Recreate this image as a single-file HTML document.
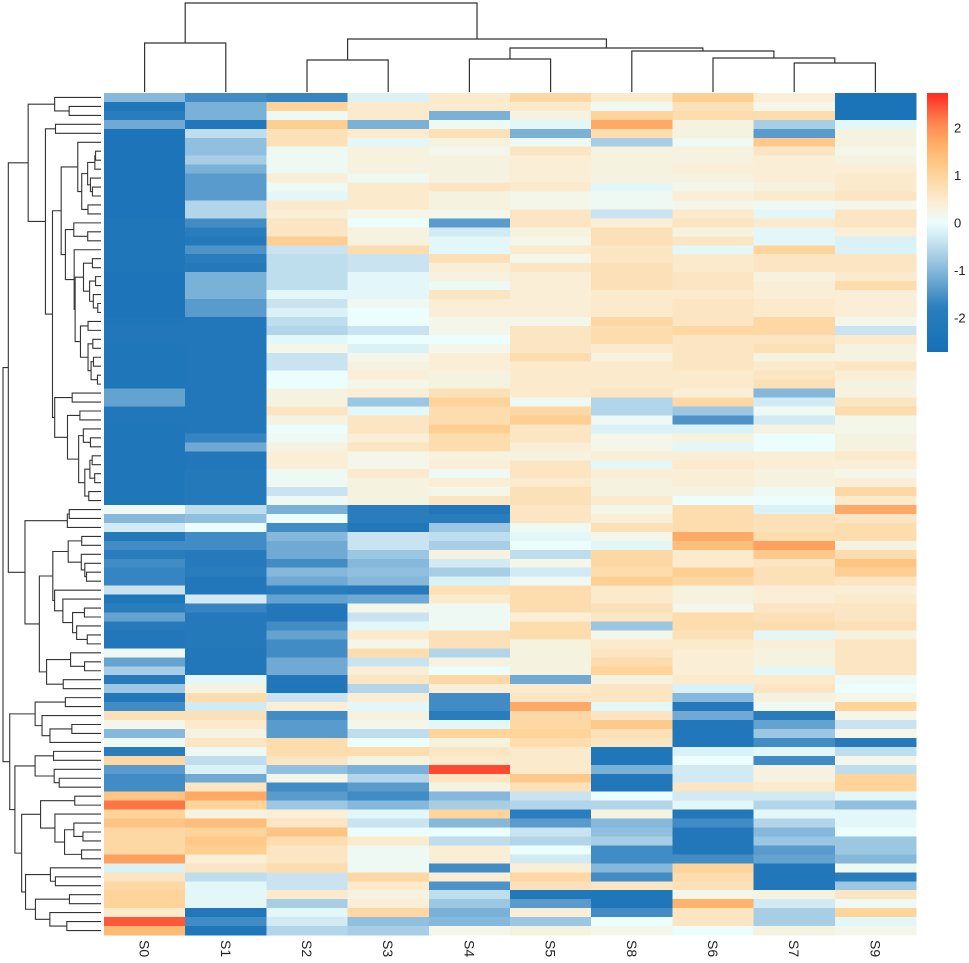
<!DOCTYPE html>
<html><head><meta charset="utf-8"><style>
html,body{margin:0;padding:0;background:#fff;}
svg{display:block;font-family:"Liberation Sans",sans-serif;}
</style></head><body>
<svg id="chart" width="969" height="963" viewBox="0 0 969 963" xmlns="http://www.w3.org/2000/svg">
<g id="col-dend"></g>
<g id="row-dend"></g>
<g id="cells" shape-rendering="crispEdges"></g>
<g id="xlabels"></g>
<g id="legend"></g>
</svg>
<script>
const columns = ["S0","S1","S2","S3","S4","S5","S8","S6","S7","S9"];
const heat = [
[-1.0,-1.6,-1.7,-0.2,0.5,0.9,0.5,1.1,0.4,-2.5],
[-2.3,-1.1,1.0,0.5,0.5,0.5,0.1,0.7,0.2,-2.5],
[-1.8,-1.1,0.1,0.5,-1.1,0.3,1.0,0.8,0.8,-2.5],
[-1.2,-2.2,1.1,-1.1,0.1,-0.1,1.7,0.3,-0.7,-0.1],
[-2.4,-0.5,0.7,0.5,0.7,-1.1,0.8,0.3,-1.4,0.3],
[-2.4,-0.9,0.7,-0.1,0.3,0.1,-0.7,0.1,1.2,0.3],
[-2.4,-0.9,0.1,0.3,0.2,0.6,0.3,0.3,0.6,0.2],
[-2.4,-0.7,0.1,0.3,0.3,0.4,0.3,0.3,0.4,0.3],
[-2.4,-1.1,0.1,0.3,0.3,0.4,0.3,0.4,0.4,0.4],
[-2.4,-1.4,0.4,0.1,0.3,0.4,0.3,0.3,0.4,0.5],
[-2.4,-1.4,0.1,0.5,0.6,0.5,-0.1,0.2,0.3,0.5],
[-2.4,-1.4,-0.1,0.5,0.3,0.2,0.1,0.4,0.5,0.6],
[-2.4,-0.6,0.5,0.5,0.3,0.2,0.1,0.2,0.1,0.2],
[-2.4,-0.6,0.4,0.2,0.2,0.6,-0.4,0.5,-0.1,0.6],
[-2.3,-1.6,0.6,0.0,-1.4,0.6,0.4,0.6,0.5,0.6],
[-2.3,-1.8,0.6,0.3,-0.3,0.3,0.7,0.3,-0.1,0.4],
[-2.3,-2.1,1.1,0.3,-0.1,0.2,0.7,0.6,-0.1,-0.2],
[-2.3,-1.5,-0.4,0.8,-0.1,0.5,0.6,-0.1,1.0,-0.2],
[-2.3,-1.8,-0.5,-0.4,0.7,0.2,0.6,0.5,0.6,0.6],
[-2.3,-2.1,-0.5,-0.4,0.4,0.6,0.7,0.5,0.6,0.6],
[-2.4,-1.1,-0.5,-0.1,0.3,0.4,0.7,0.6,0.3,0.5],
[-2.4,-1.1,-0.5,-0.1,0.1,0.4,0.7,0.6,0.4,0.8],
[-2.4,-1.1,-0.1,-0.1,0.6,0.4,0.5,0.5,0.4,0.4],
[-2.4,-1.4,-0.4,0.1,0.4,0.4,0.5,0.6,0.5,0.4],
[-2.4,-1.4,-0.2,0.0,0.4,0.4,0.5,0.6,0.5,0.4],
[-2.3,-2.2,-0.5,0.0,0.2,0.2,0.9,0.6,0.9,0.2],
[-2.2,-2.2,-0.6,-0.4,0.2,0.6,0.8,0.9,0.9,-0.4],
[-2.2,-2.2,-0.1,0.0,0.0,0.6,0.8,0.6,0.6,0.5],
[-2.3,-2.2,0.2,-0.2,0.2,0.6,0.5,0.6,0.7,0.3],
[-2.3,-2.2,-0.4,0.2,0.4,0.8,0.3,0.6,0.3,0.3],
[-2.3,-2.2,-0.4,0.3,0.4,0.5,0.5,0.6,0.5,0.6],
[-2.3,-2.2,0.0,0.4,0.3,0.5,0.5,0.5,0.6,0.4],
[-2.3,-2.2,0.0,0.2,0.3,0.5,0.5,0.5,0.7,0.3],
[-1.3,-2.2,0.3,0.4,0.7,0.5,0.6,0.4,-1.0,0.3],
[-1.3,-2.2,0.3,-0.8,1.0,0.1,-0.6,0.9,-0.3,0.6],
[-2.2,-2.2,0.6,-0.1,0.8,0.9,-0.6,-0.8,0.1,0.8],
[-2.2,-2.2,0.3,0.6,0.8,1.1,0.1,-1.5,-0.3,0.2],
[-2.3,-2.2,0.0,0.6,1.1,0.6,-0.2,-0.2,0.3,0.2],
[-2.3,-1.7,0.1,0.4,0.8,0.6,0.2,0.3,0.0,0.3],
[-2.3,-1.2,0.3,0.6,0.8,0.4,0.2,-0.1,0.0,0.3],
[-2.3,-2.2,0.4,0.2,0.3,0.3,0.4,0.4,0.4,0.5],
[-2.3,-2.2,0.4,0.2,0.4,0.6,-0.1,0.5,0.4,0.4],
[-2.3,-2.1,0.1,0.5,0.1,0.6,0.4,0.4,0.3,0.2],
[-2.3,-2.1,0.1,0.3,0.4,0.5,0.3,0.4,0.3,0.4],
[-2.3,-2.1,-0.4,0.3,0.2,0.7,0.3,0.3,0.1,0.9],
[-2.3,-2.1,0.1,0.3,0.6,0.7,0.5,0.0,0.0,0.5],
[0.1,-0.5,-1.1,-1.8,-2.2,0.6,0.2,0.8,-0.2,1.7],
[-1.0,-0.9,0.0,-1.8,-1.8,0.6,0.4,0.8,0.7,0.6],
[-0.3,0.0,-1.6,-2.2,-0.8,0.1,0.7,0.8,0.7,0.8],
[-2.1,-1.6,-1.0,-0.4,-0.5,-0.1,0.2,1.7,0.8,0.8],
[-1.6,-1.6,-1.2,-0.4,-0.7,0.0,-0.1,1.4,1.8,0.3],
[-1.8,-2.0,-1.2,-0.8,0.3,-0.5,0.9,0.5,1.2,0.8],
[-1.6,-2.0,-1.6,-1.0,-0.3,0.2,0.9,0.5,0.6,1.3],
[-1.7,-1.8,-1.0,-0.9,-0.7,-0.3,0.8,1.1,0.7,1.1],
[-1.7,-2.2,-1.2,-1.0,-0.2,0.1,1.1,0.9,0.7,0.6],
[-0.4,-2.2,-1.8,-2.0,0.7,0.8,0.5,0.3,0.4,0.4],
[-2.3,-0.3,-1.3,-1.2,0.5,0.8,0.5,0.3,0.4,0.5],
[-1.8,-1.7,-2.2,0.2,0.1,0.8,0.7,0.2,0.6,0.6],
[-1.3,-2.1,-2.2,-0.4,0.1,0.4,0.6,0.8,0.7,0.6],
[-2.0,-2.1,-1.6,-0.1,0.1,0.8,-0.8,0.8,0.8,0.7],
[-2.2,-2.1,-1.3,0.5,0.7,0.8,0.2,0.7,-0.1,0.3],
[-2.2,-2.1,-1.6,0.2,0.7,0.3,0.5,0.5,0.4,0.6],
[0.1,-2.2,-1.6,0.8,-0.6,0.3,0.6,0.4,0.3,0.6],
[-1.3,-2.2,-1.2,-0.4,0.3,0.3,0.8,0.4,0.3,0.6],
[-0.7,-2.2,-1.2,0.4,0.0,0.3,1.0,0.4,-0.1,0.6],
[-2.0,-0.1,-2.2,0.6,0.9,-1.2,0.3,0.5,0.5,0.1],
[-0.8,0.3,-2.3,-0.6,0.4,0.5,0.6,-0.2,0.6,0.0],
[-2.2,0.8,-0.4,0.4,-1.6,0.6,0.6,-1.0,0.3,0.2],
[-1.6,-0.3,0.4,-0.1,-1.6,1.7,-0.1,-2.1,0.1,1.0],
[0.7,0.7,-1.6,0.3,-1.8,0.9,0.6,-1.2,-1.9,0.2],
[0.2,0.5,-1.4,0.2,-0.1,0.9,1.2,-2.2,-1.3,-0.4],
[-1.0,0.3,-1.4,-0.5,1.0,1.0,0.7,-2.2,-0.8,0.2],
[0.1,0.6,0.8,0.0,0.3,0.8,0.6,-2.2,-1.6,-2.0],
[-1.8,0.1,0.8,0.8,0.6,0.5,-2.3,-0.2,-0.1,-0.5],
[0.9,-0.5,0.6,0.3,0.5,0.5,-2.3,0.0,-1.6,0.2],
[-1.4,-0.2,-0.9,-1.1,2.5,0.5,-1.1,-0.3,0.3,-0.5],
[-1.6,-1.2,0.2,-0.6,0.6,1.2,-2.2,-0.3,0.3,1.0],
[-1.6,0.6,-1.6,-1.4,0.3,0.7,-2.2,0.6,0.5,1.0],
[1.3,1.7,-1.4,-1.6,-1.0,-0.4,0.0,-0.3,-0.3,-0.1],
[2.2,1.0,-0.8,-1.0,-0.7,-0.6,-0.6,-0.1,-0.6,-0.9],
[1.0,0.3,0.4,-0.1,1.0,-1.8,0.3,-2.2,-0.1,-0.1],
[1.3,1.4,0.6,-0.4,-1.0,-1.4,-1.0,-1.6,-0.6,-0.1],
[0.9,1.0,1.3,0.0,0.0,-0.4,-0.9,-2.2,-1.0,0.0],
[0.9,1.2,0.8,0.5,-0.5,-0.6,-0.7,-2.2,-0.8,-0.8],
[0.9,1.1,0.6,0.1,0.4,0.0,-1.6,-2.2,-1.4,-0.8],
[1.8,0.4,0.6,0.1,0.4,-0.3,-1.6,-1.6,-1.3,-1.0],
[-0.2,0.6,0.8,0.1,-1.6,0.4,-1.0,1.0,-2.2,0.1],
[0.6,-0.5,-0.4,0.9,0.4,0.9,-1.6,0.8,-2.2,-1.8],
[0.9,-0.1,-0.4,0.5,-1.5,0.7,0.6,0.7,-2.2,-0.8],
[1.0,-0.1,0.5,0.3,-0.5,-2.2,-2.3,0.2,0.3,0.6],
[1.0,-0.1,-0.7,0.4,-0.8,-1.4,-2.3,1.6,-0.3,0.1],
[0.5,-2.2,-0.1,0.9,-1.1,0.4,-1.6,0.6,-0.7,1.0],
[2.4,-1.6,-0.3,-0.9,-1.0,-0.8,0.0,0.6,-0.7,-0.1],
[1.5,-2.3,-0.6,-0.7,0.2,0.3,0.2,0.0,0.3,0.2]
];
// column dendrogram merges: [leftNode, rightNode, height]; leaves are column indices, internal nodes "m<k>"
const colMerges = [
  [0, 1, 49],
  [2, 3, 32],
  [4, 5, 33],
  [8, 9, 29],
  [7, "m3", 34],
  [6, "m4", 41],
  ["m2", "m5", 44],
  ["m1", "m6", 53],
  ["m0", "m7", 89]
];
const legendTicks = [2, 1, 0, -1, -2];
const colorStops = [[-2.7,'#1770b6'],[-1.8,'#2a7dbd'],[-1.0,'#86b8db'],[-0.4,'#c9e4f0'],[0,'#ebfdfc'],[0.4,'#faeed6'],[1.0,'#fed49a'],[1.6,'#feb36b'],[2.1,'#ff8450'],[2.7,'#ff2b22']];

const NS = "http://www.w3.org/2000/svg";
const X0 = 104, X1 = 916, Y0 = 93, Y1 = 935;
const nR = heat.length, nC = columns.length;
const cw = (X1 - X0) / nC, rh = (Y1 - Y0) / nR;
const xCol = i => X0 + cw * i;
const yRow = r => Y0 + rh * r;

function hex(h){return [1,3,5].map(i=>parseInt(h.substr(i,2),16));}
function color(v){
  if (v <= colorStops[0][0]) return colorStops[0][1];
  for (let i=1;i<colorStops.length;i++){
    if (v <= colorStops[i][0]){
      const [a,ca]=colorStops[i-1],[b,cb]=colorStops[i];
      const t=(v-a)/(b-a), A=hex(ca), B=hex(cb);
      return 'rgb('+A.map((x,k)=>Math.round(x+(B[k]-x)*t)).join(',')+')';
    }
  }
  return colorStops[colorStops.length-1][1];
}
function mk(tag, attrs, parent){
  const e=document.createElementNS(NS,tag);
  for (const k in attrs) e.setAttribute(k, attrs[k]);
  parent.appendChild(e); return e;
}

// cells
const cellsG = document.getElementById('cells');
heat.forEach((row, r) => {
  row.forEach((v, c) => {
    const el = mk('rect', {x: xCol(c), y: yRow(r), width: cw + 0.6, height: rh + 0.6, fill: color(v)}, cellsG);
    
    
  });
});

// column labels
const xl = document.getElementById('xlabels');
columns.forEach((name, i) => {
  const cx = xCol(i) + cw/2, ty = 940;
  const t = mk('text', {x: 0, y: 0, transform: `translate(${cx-5},${ty}) rotate(90)`, 'font-size': 14, fill: '#222'}, xl);
  t.textContent = name;
  
  
});

// column dendrogram
const cd = document.getElementById('col-dend');
const colBase = 92, colScale = 1;
const nodes = {};
columns.forEach((n,i)=>{ nodes[i] = {x: xCol(i)+cw/2, h: 0}; });
function node(k){ return typeof k === 'number' ? nodes[k] : nodes[k]; }
colMerges.forEach((m, k) => {
  const a = node(m[0]), b = node(m[1]), h = m[2];
  const yh = colBase - h*colScale;
  const p = mk('path', {d: `M${a.x},${colBase - a.h*colScale}V${yh}H${b.x}V${colBase - b.h*colScale}`, fill:'none', stroke:'#333', 'stroke-width':1.2}, cd);
  
  
  nodes['m'+k] = {x: (a.x+b.x)/2, h: h};
});

// row dendrogram: adjacency-constrained complete linkage
const rd = document.getElementById('row-dend');
function dist(i,j){let s=0;for(let c=0;c<nC;c++){const d=heat[i][c]-heat[j][c];s+=d*d;}return Math.sqrt(s);}
let clusters = heat.map((_, i) => ({mem:[i], y: yRow(i)+rh/2, h: 0}));
const merges = [];
while (clusters.length > 1){
  let best = -1, bd = Infinity;
  for (let i=0;i<clusters.length-1;i++){
    let d = 0;
    for (const a of clusters[i].mem) for (const b of clusters[i+1].mem){ const q=dist(a,b); if(q>d)d=q; }
    if (d < bd){ bd = d; best = i; }
  }
  const A = clusters[best], B = clusters[best+1];
  const h = Math.max(bd, A.h, B.h);
  merges.push({a:{y:A.y,h:A.h}, b:{y:B.y,h:B.h}, h:h});
  clusters.splice(best, 2, {mem: A.mem.concat(B.mem), y: (A.y+B.y)/2, h: h});
}
const hmax = merges[merges.length-1].h;
const rx = h => 101 - h/hmax*98;
merges.forEach(m => {
  const p = mk('path', {d: `M${rx(m.a.h)},${m.a.y}H${rx(m.h)}V${m.b.y}H${rx(m.b.h)}`, fill:'none', stroke:'#333', 'stroke-width':1.1}, rd);
  
  
});

// legend
const lg = document.getElementById('legend');
const LY0 = 93, LY1 = 352, LV = 2.72;
const ly = v => LY0 + (LV - v) / (2*LV) * (LY1 - LY0);
const defs = mk('defs', {}, lg);
const grad = mk('linearGradient', {id:'lgGrad', x1:0, y1:0, x2:0, y2:1}, defs);
for (let i=0;i<=40;i++){
  const v = LV - i/40*2*LV;
  mk('stop', {offset: (i/40), 'stop-color': color(v)}, grad);
}
const bar = mk('rect', {x:927, y:LY0, width:21, height:LY1-LY0, fill:'url(#lgGrad)'}, lg);


legendTicks.forEach(v => {
  const t = mk('text', {x: 954, y: ly(v)+5, 'font-size': 13, fill:'#222'}, lg);
  t.textContent = v;
  
  
});
</script>
</body></html>
